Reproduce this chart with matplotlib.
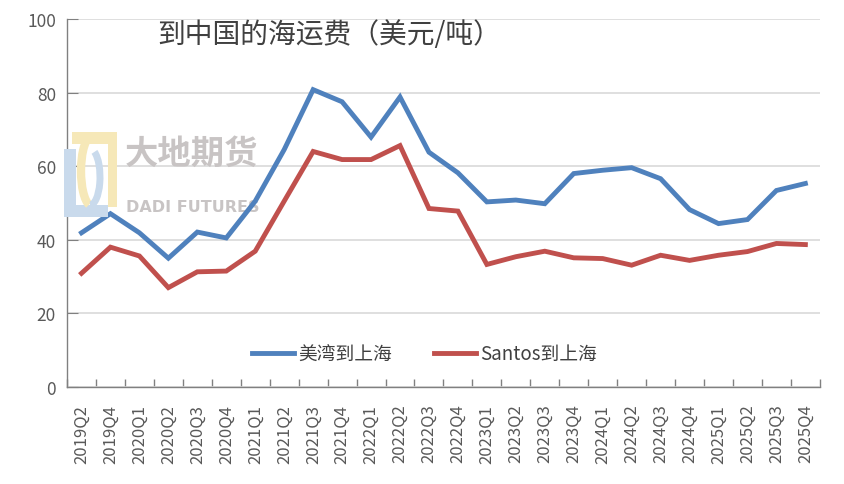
import matplotlib
matplotlib.use("Agg")
import matplotlib.pyplot as plt
from matplotlib.patches import Rectangle, Arc
from matplotlib.transforms import IdentityTransform
import numpy as np

plt.rcParams['font.family'] = ['Noto Sans CJK SC', 'DejaVu Sans']

quarters = ['2019Q2', '2019Q4', '2020Q1', '2020Q2', '2020Q3', '2020Q4',
            '2021Q1', '2021Q2', '2021Q3', '2021Q4', '2022Q1', '2022Q2',
            '2022Q3', '2022Q4', '2023Q1', '2023Q2', '2023Q3', '2023Q4',
            '2024Q1', '2024Q2', '2024Q3', '2024Q4', '2025Q1', '2025Q2',
            '2025Q3', '2025Q4']
us_gulf = [41.9, 47.1, 41.9, 35.0, 42.1, 40.5, 50.5, 64.5, 80.8, 77.5,
           67.9, 78.8, 63.8, 58.2, 50.3, 50.8, 49.8, 58.0, 58.9, 59.6,
           56.6, 48.2, 44.4, 45.5, 53.4, 55.3]
santos = [30.9, 38.0, 35.6, 27.0, 31.3, 31.5, 36.9, 50.5, 64.0, 61.8,
          61.8, 65.6, 48.5, 47.8, 33.3, 35.4, 36.9, 35.1, 34.9, 33.1,
          35.8, 34.4, 35.8, 36.8, 39.0, 38.7]
yticks = [0, 20, 40, 60, 80, 100]

W, H = 844, 485
fig = plt.figure(figsize=(W / 100, H / 100), dpi=100)
ax = fig.add_axes([0.0794, 0.2, 0.892, 0.7588])

x = np.arange(len(quarters))
ax.plot(x, us_gulf, color='#4F81BD', lw=3.5, solid_joinstyle='miter',
        label='美湾到上海', zorder=4)
ax.plot(x, santos, color='#C0504D', lw=3.5, solid_joinstyle='miter',
        label='Santos到上海', zorder=4)

ax.set_xlim(-0.5, len(quarters) - 0.5)
ax.set_ylim(0, 100)
ax.set_yticks(yticks)
ax.set_yticklabels([str(v) for v in yticks])
ax.yaxis.grid(True, color='#D9D9D9', lw=1.2, zorder=1)
ax.set_axisbelow(True)

# category axis: ticks between labels
ax.set_xticks(x)
ax.set_xticklabels(quarters, rotation=90)
ax.set_xticks(np.arange(len(quarters) + 1) - 0.5, minor=True)
ax.tick_params(axis='x', which='major', length=0, pad=12,
               labelsize=12, labelcolor='#595959')
ax.tick_params(axis='x', which='minor', direction='in', length=6,
               color='#808080', width=1)
ax.tick_params(axis='y', direction='in', length=8, color='#808080',
               labelsize=12.5, labelcolor='#595959', pad=8)

for s in ['top', 'right']:
    ax.spines[s].set_visible(False)
for s in ['left', 'bottom']:
    ax.spines[s].set_color('#808080')
    ax.spines[s].set_linewidth(1)

ax.text(0.12, 0.958, '到中国的海运费（美元/吨）', transform=ax.transAxes,
        fontsize=20, color='#404040', va='center', ha='left')


# watermark logo, drawn in pixel coordinates (origin top-left)
def px_rect(x0, y0, x1, y1, color):
    fig.add_artist(Rectangle((x0, H - y1), x1 - x0, y1 - y0,
                             transform=IdentityTransform(), color=color,
                             lw=0, zorder=2))


yellow = '#F6E8B8'
blue = '#C9DAEC'
px_rect(72, 133, 117, 145, yellow)
px_rect(108, 133, 117, 208, yellow)
px_rect(64, 150, 76, 218, blue)
px_rect(64, 206, 108, 218, blue)
fig.add_artist(Arc((92, H - 172), 22, 70, theta1=95, theta2=265,
                   transform=IdentityTransform(), color=yellow, lw=6,
                   zorder=2))
fig.add_artist(Arc((90, H - 178), 20, 56, theta1=-90, theta2=80,
                   transform=IdentityTransform(), color=blue, lw=5,
                   zorder=2))

ax.text(0.077, 0.635, '大地期货', transform=ax.transAxes, fontsize=24,
        fontweight='bold', color='#C8C4C4', va='center', ha='left',
        zorder=2)
ax.text(0.079, 0.49, 'DADI FUTURES', transform=ax.transAxes, fontsize=11.5,
        fontweight='bold', color='#C8C4C4', va='center', ha='left',
        family='DejaVu Sans', zorder=2)

leg = ax.legend(loc='center', bbox_to_anchor=(0.475, 0.09), ncol=2,
                frameon=False, fontsize=13.5, handlelength=2.25,
                columnspacing=2.2, handletextpad=0.25)
for t in leg.get_texts():
    t.set_color('#404040')

fig.savefig('out.png', dpi=100)
